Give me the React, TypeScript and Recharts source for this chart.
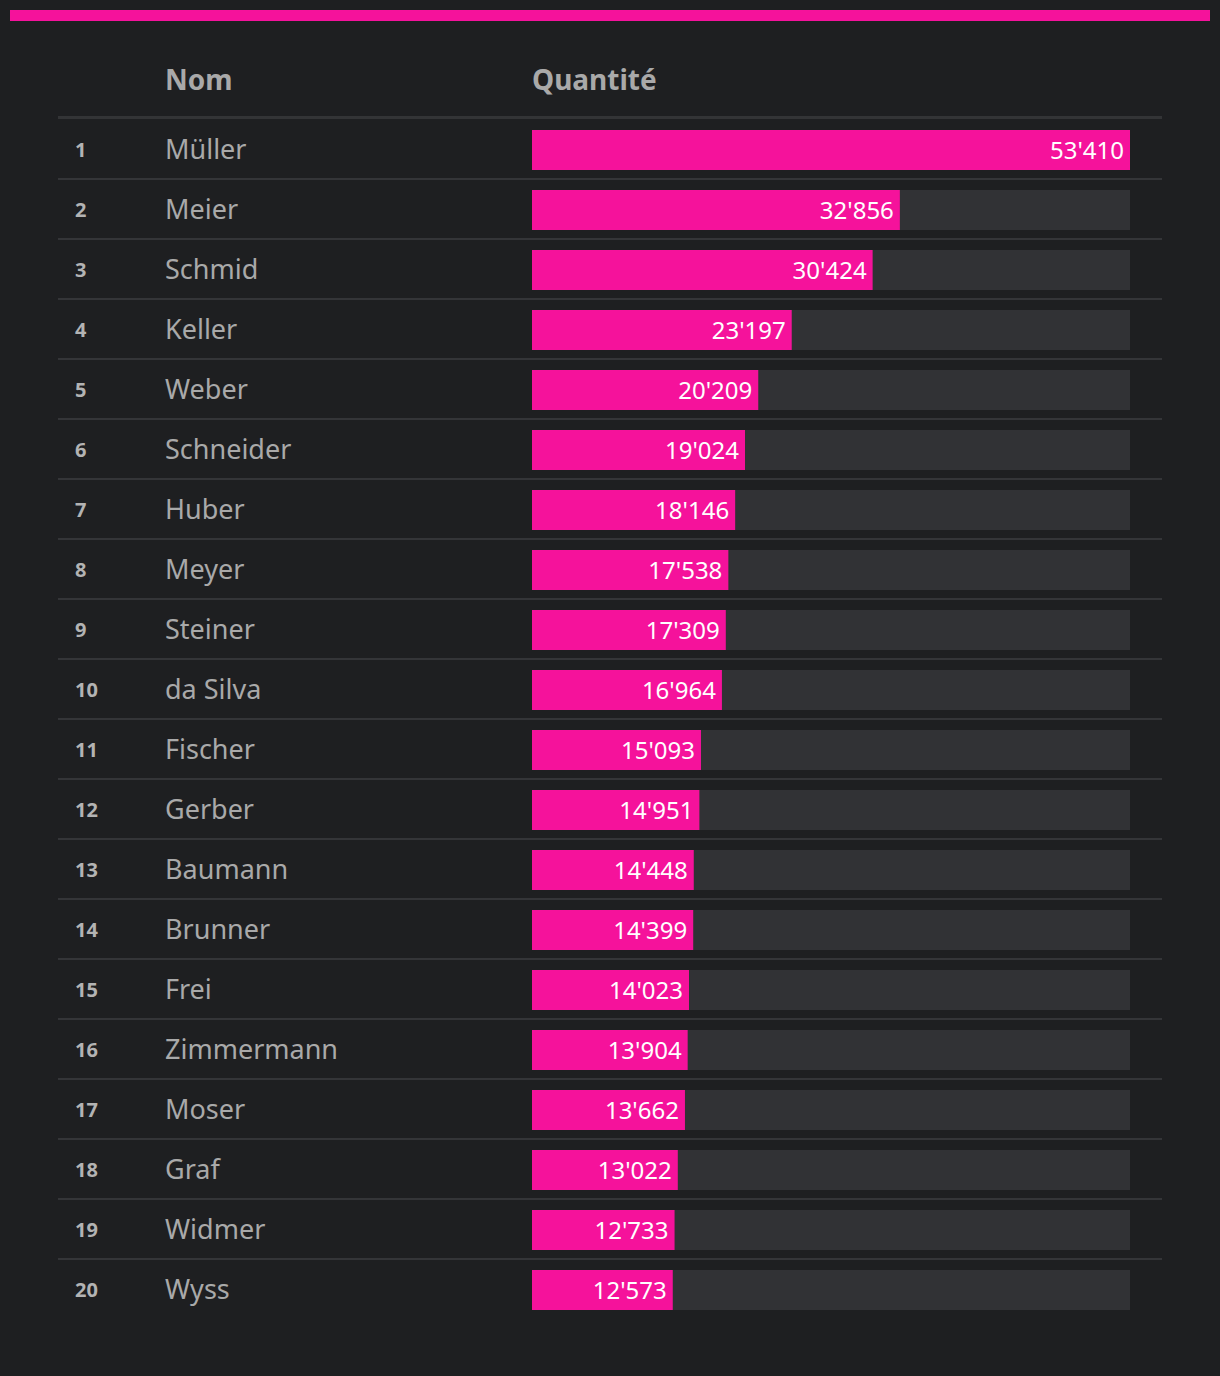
import { BarChart, Bar, XAxis, YAxis, LabelList } from "recharts";

const names = [
  "Müller",
  "Meier",
  "Schmid",
  "Keller",
  "Weber",
  "Schneider",
  "Huber",
  "Meyer",
  "Steiner",
  "da Silva",
  "Fischer",
  "Gerber",
  "Baumann",
  "Brunner",
  "Frei",
  "Zimmermann",
  "Moser",
  "Graf",
  "Widmer",
  "Wyss",
];

const counts = [
  53410, 32856, 30424, 23197, 20209, 19024, 18146, 17538, 17309, 16964, 15093,
  14951, 14448, 14399, 14023, 13904, 13662, 13022, 12733, 12573,
];

const headers = ["Nom", "Quantité"];

const PINK = "#f5129b";
const BG = "#1e1f21";
const TEXT = "#a9a9a9";
const FONT = "'Noto Sans', sans-serif";

const data = names.map((name, i) => ({ name, rank: i + 1, value: counts[i] }));

const fmt = (v: any) => String(v).replace(/\B(?=(\d{3})+(?!\d))/g, "'");

function RowTick(props: any) {
  const { y, payload } = props;
  const index = names.indexOf(payload.value);
  const rank = index + 1;
  return (
    <g>
      <text
        x={75}
        y={y}
        dy={7}
        fill="#b3b3b3"
        fontSize={20}
        fontWeight={700}
        fontFamily={FONT}
      >
        {rank}
      </text>
      <text x={165} y={y} dy={9} fill={TEXT} fontSize={27} fontFamily={FONT}>
        {payload.value}
      </text>
      {index < names.length - 1 && (
        <rect x={58} y={y + 28} width={1104} height={2} fill="#343538" />
      )}
    </g>
  );
}

export default function App() {
  return (
    <div
      style={{
        position: "relative",
        width: 1220,
        height: 1376,
        background: BG,
        fontFamily: FONT,
      }}
    >
      <style>{`body{margin:0;background:${BG}}`}</style>
      <div
        style={{
          position: "absolute",
          left: 10,
          top: 10,
          width: 1200,
          height: 11,
          background: PINK,
        }}
      />
      <div
        style={{
          position: "absolute",
          left: 165,
          top: 60,
          fontSize: 28,
          fontWeight: 700,
          color: TEXT,
          lineHeight: "38px",
        }}
      >
        {headers[0]}
      </div>
      <div
        style={{
          position: "absolute",
          left: 532,
          top: 60,
          fontSize: 28,
          fontWeight: 700,
          color: TEXT,
          lineHeight: "38px",
        }}
      >
        {headers[1]}
      </div>
      <div
        style={{
          position: "absolute",
          left: 58,
          top: 116,
          width: 1104,
          height: 3,
          background: "#333436",
        }}
      />
      <div style={{ position: "absolute", left: 0, top: 0 }}>
        <BarChart
          width={1220}
          height={1376}
          data={data}
          layout="vertical"
          margin={{ top: 120, right: 90, bottom: 56, left: 0 }}
        >
          <XAxis type="number" domain={[0, 53410]} hide />
          <YAxis
            type="category"
            dataKey="name"
            width={532}
            axisLine={false}
            tickLine={false}
            tick={(p: any) => <RowTick {...p} />}
            interval={0}
          />
          <Bar
            dataKey="value"
            fill={PINK}
            barSize={40}
            background={{ fill: "#313235" }}
            isAnimationActive={false}
          >
            <LabelList
              dataKey="value"
              position="insideRight"
              offset={6}
              fill="#ffffff"
              fontSize={24}
              fontFamily={FONT}
              formatter={fmt}
            />
          </Bar>
        </BarChart>
      </div>
    </div>
  );
}
